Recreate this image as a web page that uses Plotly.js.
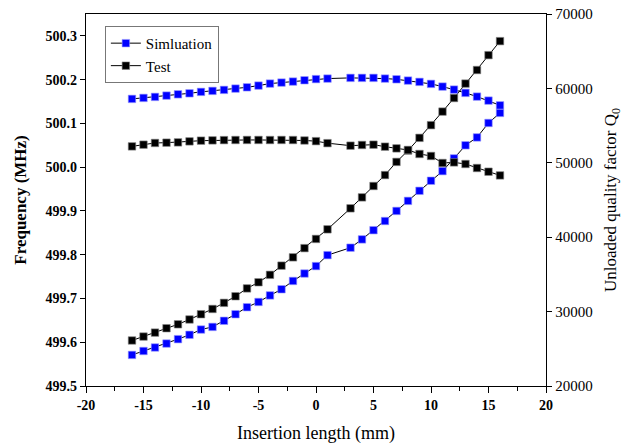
<!DOCTYPE html>
<html>
<head>
<meta charset="utf-8">
<script src="https://cdn.plot.ly/plotly-3.0.1.min.js"></script>
<style>html,body{margin:0;padding:0;background:#fff;}#chart{width:629px;height:446px;}</style>
</head>
<body>
<div id="chart"></div>
<script>
// Insertion length (mm); x = 2 is not measured
const insertion = [-16,-15,-14,-13,-12,-11,-10,-9,-8,-7,-6,-5,-4,-3,-2,-1,0,1,3,4,5,6,7,8,9,10,11,12,13,14,15,16];
// Frequency (MHz)
const freqSim = [499.571,499.580,499.588,499.597,499.607,499.617,499.629,499.635,499.649,499.664,499.680,499.692,499.707,499.721,499.740,499.757,499.774,499.799,499.816,499.835,499.856,499.877,499.900,499.923,499.946,499.969,499.991,500.020,500.050,500.068,500.101,500.124];
const freqTest = [499.604,499.613,499.622,499.632,499.641,499.652,499.664,499.676,499.690,499.705,499.723,499.737,499.754,499.775,499.794,499.815,499.836,499.858,499.906,499.931,499.957,499.982,500.012,500.038,500.067,500.096,500.127,500.158,500.191,500.222,500.256,500.288];
// Unloaded quality factor Q0
const qSim = [58587,58722,58856,59031,59206,59341,59530,59664,59799,59973,60148,60377,60646,60781,60916,61091,61250,61320,61414,61414,61414,61320,61225,61050,60875,60606,60243,59839,59395,58897,58359,57726];
const qTest = [52208,52437,52666,52706,52746,52881,52975,53015,53050,53065,53070,53070,53060,53070,53060,53000,52910,52640,52302,52396,52437,52167,51939,51724,51186,50916,49974,50055,49839,49301,48803,48305];

// Tick labels
const xTickVals = [-20,-15,-10,-5,0,5,10,15,20];
const xTickText = ["-20","-15","-10","-5","0","5","10","15","20"];
const yTickVals = [499.5,499.6,499.7,499.8,499.9,500.0,500.1,500.2,500.3];
const yTickText = ["499.5","499.6","499.7","499.8","499.9","500.0","500.1","500.2","500.3"];
const y2TickVals = [20000,30000,40000,50000,60000,70000];
const y2TickText = ["20000","30000","40000","50000","60000","70000"];

const seriesNames = ["Simluation","Test"];
const blue = "#0000FF", black = "#000000";
const serif = "'Liberation Serif', 'Times New Roman', Times, serif";

function tr(y, name, color, axis, showleg){
  return {
    x: insertion, y: y, name: name, yaxis: axis, type: "scatter", mode: "lines+markers",
    showlegend: showleg, legendgroup: name,
    line: {color: "#000", width: 1},
    marker: {symbol: "square", size: 7.5, color: color, line: {color: color === blue ? "#9a9aff" : "#888", width: 0.6}}
  };
}

const data = [
  tr(freqSim, seriesNames[0], blue, "y", true),
  tr(freqTest, seriesNames[1], black, "y", true),
  tr(qSim, seriesNames[0], blue, "y2", false),
  tr(qTest, seriesNames[1], black, "y2", false)
];

const layout = {
  width: 629, height: 446,
  margin: {l: 86, r: 83, t: 14, b: 60, pad: 0},
  paper_bgcolor: "#fff", plot_bgcolor: "#fff",
  font: {family: serif, color: "#000"},
  showlegend: true,
  legend: {
    x: 0.041, y: 0.968, xanchor: "left", yanchor: "top",
    bgcolor: "rgba(255,255,255,0)", bordercolor: "#777", borderwidth: 1,
    font: {family: serif, size: 15, color: "#000"},
    tracegroupgap: 0, itemwidth: 30
  },
  xaxis: {
    range: [-20, 20], tickmode: "array", tickvals: xTickVals, ticktext: xTickText,
    showgrid: false, zeroline: false,
    showline: true, linecolor: "#000", linewidth: 1.2, mirror: true,
    ticks: "outside", ticklen: 6, tickwidth: 1, tickcolor: "#000",
    minor: {dtick: 2.5, tick0: -20, ticks: "outside", ticklen: 4, tickwidth: 1, tickcolor: "#000", showgrid: false},
    tickfont: {family: serif, size: 14, weight: "bold", color: "#000"},
    title: {text: "Insertion length (mm)", font: {family: serif, size: 18, color: "#000"}, standoff: 14}
  },
  yaxis: {
    range: [499.5, 500.35], tickmode: "array", tickvals: yTickVals, ticktext: yTickText,
    showgrid: false, zeroline: false,
    showline: true, linecolor: "#000", linewidth: 1.2,
    ticks: "outside", ticklen: 5, tickwidth: 1, tickcolor: "#000",
    tickfont: {family: serif, size: 14, weight: "bold", color: "#000"},
    title: {text: "Frequency (MHz)", font: {family: serif, size: 17, weight: "bold", color: "#000"}, standoff: 14}
  },
  yaxis2: {
    overlaying: "y", side: "right", anchor: "x",
    range: [20000, 70000], tickmode: "array", tickvals: y2TickVals, ticktext: y2TickText,
    showgrid: false, zeroline: false,
    showline: true, linecolor: "#000", linewidth: 1.2,
    ticks: "outside", ticklen: 5, tickwidth: 1, tickcolor: "#000",
    tickfont: {family: serif, size: 15, color: "#000"},
    title: {text: "Unloaded quality factor Q<sub>0</sub>", font: {family: serif, size: 17, color: "#000"}, standoff: 12}
  }
};

Plotly.newPlot("chart", data, layout, {staticPlot: true, displayModeBar: false});
</script>
</body>
</html>
